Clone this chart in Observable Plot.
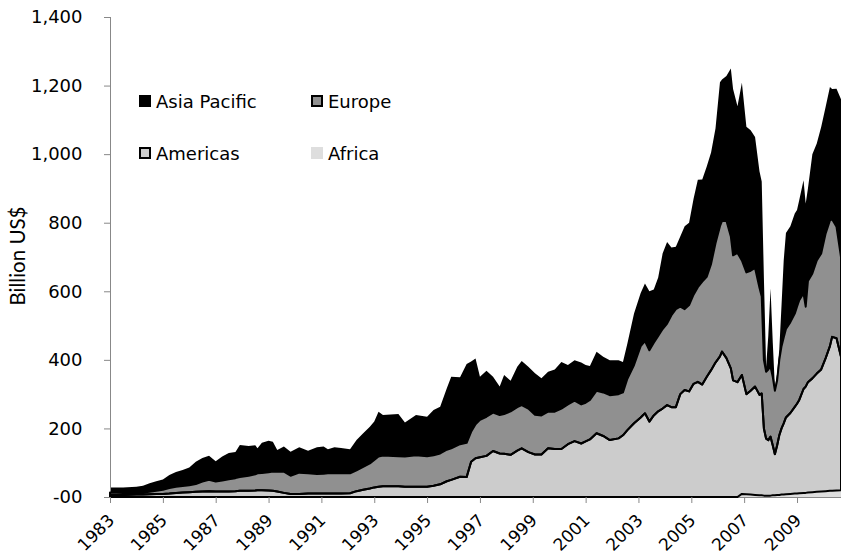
<!DOCTYPE html>
<html>
<head>
<meta charset="utf-8">
<script src="https://cdn.jsdelivr.net/npm/d3@7"></script>
<script src="https://cdn.jsdelivr.net/npm/@observablehq/plot@0.6"></script>
<style>
  body { margin: 0; background: #fff; }
  #chart { position: relative; width: 841px; height: 559px; font-family: "DejaVu Sans", Verdana, sans-serif; }
  #chart svg { display: block; }
  .ylabel { position: absolute; left: 17px; top: 256px; transform: translate(-50%, -50%) rotate(-90deg);
            font: 20.5px/1 Lato, "Open Sans", sans-serif; white-space: nowrap; color: #000; }
  .key { position: absolute; height: 18px; font: 18px/18px "DejaVu Sans", Verdana, sans-serif; white-space: nowrap; color: #000; }
  .key .sw { position: absolute; left: 0; top: 2px; width: 12px; height: 12px; box-sizing: border-box; }
  .key .tx { position: absolute; left: 17px; top: 0; }
  .key.c0 { left: 139px; } .key.c1 { left: 311px; }
  .key.r0 { top: 93px; }   .key.r1 { top: 145px; }
</style>
</head>
<body>
<div id="chart"></div>
<script>
// Monthly observations (irregularly sampled), billion US$
const months = [
  "1983-01","1983-07","1984-01","1984-04","1984-07","1984-10","1985-01","1985-04","1985-07","1985-10",
  "1986-01","1986-04","1986-07","1986-10","1987-01","1987-04","1987-07","1987-10","1987-12",
  "1988-04","1988-07","1988-08","1988-10","1989-01","1989-03","1989-05","1989-08","1989-11",
  "1990-03","1990-07","1990-11","1991-02","1991-04","1991-07","1991-10",
  "1992-02","1992-05","1992-08","1992-11","1993-01","1993-03","1993-05","1993-12",
  "1994-03","1994-08","1995-01","1995-04","1995-07","1995-10","1995-12",
  "1996-04","1996-07","1996-09","1996-11","1997-01","1997-04","1997-07","1997-10","1997-12",
  "1998-03","1998-06","1998-08","1998-11","1999-02","1999-05","1999-08","1999-11",
  "2000-02","2000-05","2000-08","2000-11","2001-01","2001-03","2001-06","2001-09","2001-12",
  "2002-04","2002-06","2002-08","2002-11","2003-02","2003-04","2003-06","2003-08","2003-10","2003-12",
  "2004-02","2004-04","2004-06","2004-08","2004-10","2004-12","2005-02","2005-04","2005-06","2005-08","2005-10","2005-12",
  "2006-02","2006-03","2006-05","2006-07","2006-08","2006-10","2006-12","2007-02","2007-04","2007-06","2007-08","2007-09",
  "2007-10","2007-11","2007-12","2008-01","2008-02","2008-03","2008-04","2008-05","2008-06","2008-07","2008-08","2008-10","2008-12",
  "2009-01","2009-02","2009-04","2009-05","2009-06","2009-08","2009-10","2009-12","2010-02","2010-04","2010-05","2010-07","2010-09"
];

const africa = [
  0,0,0,0,0,0,0,0,0,0,
  0,0,0,0,0,0,0,0,0,
  0,0,0,0,0,0,0,0,0,
  0,0,0,0,0,0,0,
  0,0,0,0,0,0,0,0,
  0,0,0,0,0,0,0,
  0,0,0,0,0,0,0,0,0,
  0,0,0,0,0,0,0,0,
  0,0,0,0,0,0,0,0,0,
  0,0,0,0,0,0,0,0,0,0,
  0,0,0,0,0,0,0,0,0,0,0,0,
  0,0,0,0,0,0,9,8,7,6,5,5,
  4,4,4,4,5,5,6,6,7,7,8,9,10,
  10,11,12,12,13,14,15,16,17,18,18,19,20
];

const americas = [
  6,6,7,7,8,9,9,10,12,13,
  14,15,16,17,16,16,16,17,18,
  18,19,20,20,19,18,16,12,9,
  9,10,10,10,10,10,10,
  11,17,21,25,28,30,31,31,
  30,30,30,33,37,46,50,
  59,58,103,113,116,120,134,127,126,
  123,135,142,131,124,124,142,140,
  140,154,163,156,162,168,186,178,166,
  171,180,195,215,232,244,220,238,250,258,
  268,262,262,300,312,308,330,336,328,350,370,392,
  410,424,405,375,340,335,347,292,303,316,293,297,
  196,166,162,172,145,120,144,174,193,208,224,236,253,
  262,272,303,310,322,332,345,356,388,422,449,444,389
];

const europe = [
  7,6,5,6,7,9,12,16,18,19,
  20,23,29,33,29,32,36,38,40,
  44,47,49,50,53,56,58,62,53,
  62,59,57,58,59,59,60,
  58,61,67,73,80,88,90,88,
  88,92,89,89,90,92,92,
  95,100,87,99,109,114,112,112,116,
  127,127,126,127,116,114,107,109,
  118,116,118,114,113,115,124,127,131,
  129,125,150,170,208,211,208,212,220,232,
  238,268,286,255,236,252,260,276,300,292,310,348,
  380,381,401,385,365,377,334,355,350,346,312,283,
  200,195,206,204,200,185,190,220,240,250,258,265,272,
  283,291,279,233,295,306,330,338,364,367,343,325,291
];

const asiaPacific = [
  15,16,18,20,25,28,30,38,43,47,
  52,65,69,70,59,70,76,76,94,
  87,85,73,88,92,87,63,73,70,
  74,66,78,79,70,76,73,
  70,88,98,107,112,131,118,123,
  99,117,115,132,136,179,209,
  195,230,205,192,126,134,105,83,114,
  89,118,129,122,121,108,116,123,
  136,115,118,122,110,99,114,104,102,
  99,89,103,150,155,168,172,155,170,220,
  238,198,182,205,242,240,280,313,298,321,325,335,
  420,413,422,490,485,428,518,425,410,382,340,335,
  240,15,98,228,100,10,20,30,120,225,280,280,292,
  282,292,330,301,270,348,341,369,369,389,380,403,460
];

const seriesNames = ["Africa", "Americas", "Europe", "Asia Pacific"];
const yTicks = [0, 200, 400, 600, 800, 1000, 1200, 1400];
const xTickYears = [1983, 1985, 1987, 1989, 1991, 1993, 1995, 1997, 1999, 2001, 2003, 2005, 2007, 2009];

// Layer appearance: fill colour and whether the layer is outlined in black
const look = {
  "Africa":       { fill: "#dedede", outline: false },
  "Americas":     { fill: "#cccccc", outline: true },
  "Europe":       { fill: "#909090", outline: true },
  "Asia Pacific": { fill: "#000000", outline: false }
};

const parseMonth = d3.utcParse("%Y-%m");
const dates = months.map(parseMonth);
const valuesBySeries = { "Africa": africa, "Americas": americas, "Europe": europe, "Asia Pacific": asiaPacific };

// Stack the regions bottom-up: Africa, Americas, Europe, Asia Pacific
const layers = seriesNames.map(name => ({ name, rows: [] }));
dates.forEach((date, i) => {
  let base = 0;
  layers.forEach(layer => {
    const top = base + valuesBySeries[layer.name][i];
    layer.rows.push({ date, y1: base, y2: top });
    base = top;
  });
});

const xTicks = xTickYears.map(y => new Date(Date.UTC(y, 0, 1)));
const formatY = d => d === 0 ? "-00" : d3.format(",")(d);

const plot = Plot.plot({
  width: 841,
  height: 559,
  marginLeft: 110,
  marginRight: 0,
  marginTop: 17,
  marginBottom: 62,
  style: { fontFamily: '"DejaVu Sans", Verdana, sans-serif', fontSize: "18px", color: "#000", background: "#fff", overflow: "visible" },
  x: { type: "utc", domain: d3.extent(dates), axis: null },
  y: { domain: d3.extent(yTicks), axis: null },
  marks: [
    // filled layers
    ...layers.map(l => Plot.area(l.rows, { x1: "date", y1: "y1", y2: "y2", fill: look[l.name].fill })),
    // axis lines
    Plot.ruleY([0], { stroke: "#888" }),
    Plot.ruleX([dates[0]], { stroke: "#888" }),
    // black outlines around the Americas and Europe layers
    ...layers.filter(l => look[l.name].outline).map(l =>
      Plot.area(l.rows, { x1: "date", y1: "y1", y2: "y2", fill: "none", stroke: "#000", strokeWidth: 2, strokeLinejoin: "round" })),
    Plot.axisY({ ticks: yTicks, tickSize: 6, tickPadding: 22, tickFormat: formatY, stroke: "#888", fill: "#000", label: null }),
    Plot.axisX({ ticks: xTicks, tickSize: 6, tickFormat: () => "", stroke: "#888", label: null }),
    Plot.text(xTicks, {
      x: d => d, frameAnchor: "bottom", text: d3.utcFormat("%Y"),
      rotate: -45, textAnchor: "end", lineAnchor: "middle", dx: 1, dy: 20, fontSize: 17, fill: "#000"
    })
  ]
});

const chart = document.getElementById("chart");
chart.appendChild(plot);

// Axis title
const ylabel = document.createElement("div");
ylabel.className = "ylabel";
ylabel.textContent = "Billion US$";
chart.appendChild(ylabel);

// Legend, two columns, drawn over the plot area
const legendOrder = ["Asia Pacific", "Europe", "Americas", "Africa"];
legendOrder.forEach((name, i) => {
  const item = document.createElement("div");
  item.className = `key c${i % 2} r${Math.floor(i / 2)}`;
  const sw = document.createElement("span");
  sw.className = "sw";
  sw.style.background = look[name].fill;
  sw.style.border = look[name].outline ? "2px solid #000" : (name === "Asia Pacific" ? "1px solid #000" : "none");
  const tx = document.createElement("span");
  tx.className = "tx";
  tx.textContent = name;
  item.append(sw, tx);
  chart.appendChild(item);
});
</script>
</body>
</html>
